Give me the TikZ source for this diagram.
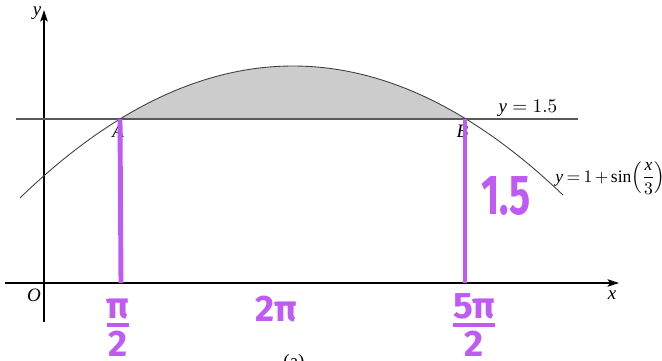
\documentclass[tikz,border=0pt]{standalone}
\usepackage{amsmath}
\usepackage{graphicx}
\usepackage{fontspec}
\setmainfont{Liberation Serif}
\newfontfamily\handfont{Fira Sans}
\usetikzlibrary{positioning, arrows.meta}
\definecolor{pen}{RGB}{191,90,242}

\begin{document}
\begin{tikzpicture}[
    x=0.02cm, y=-0.02cm,
    >={Stealth[length=2.3mm, width=1.5mm, inset=0.5mm]},
    axis/.style={->, line width=0.75pt, black},
    curve/.style={line width=0.5pt, black!75},
    level/.style={line width=0.6pt, black!65},
    region/.style={fill=black!20},
    lbl/.style={inner sep=0pt, font=\fontsize{10.8}{13}\selectfont},
    pt/.style={lbl, font=\fontsize{10.8}{13}\selectfont\itshape},
    ink/.style={line width=2.8pt, pen},
    hand/.style={inner sep=0pt, text=pen,
                 font=\handfont\bfseries\fontsize{#1}{#1}\selectfont},
    hand/.default=21
]
  \useasboundingbox (0,0) rectangle (662,360);

  % Axes
  \coordinate (xstart) at (5,283);
  \coordinate (xend) at (619,283);
  \coordinate (ystart) at (44,322);
  \coordinate (yend) at (44,10);
  \draw[axis] (xstart) -- (xend);
  \draw[axis] (ystart) -- (yend);
  \node[pt] (olbl) at (34,295) {O};
  \node[pt] (ylbl) at (37,13) {y};
  \node[pt] (xlbl) at (612,295) {x};

  % Intersections with y = 1.5
  \coordinate (A) at (120,119);
  \coordinate (B) at (465,119);
  \coordinate (lstart) at (16,119);
  \coordinate (lend) at (578,119);

  % Shaded region, line and curve
  \fill[region] plot[domain=120:465, samples=60] (\x, {66+(0.04207*(\x-293))^2}) -- cycle;
  \draw[level] (lstart) -- (lend);
  \draw[curve] plot[domain=20:563, samples=100, smooth] (\x, {66+(0.04207*(\x-293))^2});

  \node[pt, below=3pt of A, xshift=-1pt] (albl) {A};
  \node[pt, below=3pt of B, xshift=-1.5pt] (blbl) {B};
  \node[lbl, anchor=base] (llbl) at (528,112) {$\textit{y} = 1.5$};
  \node[lbl, anchor=base west, font=\fontsize{10}{12}\selectfont] (clbl) at (555,182)
    {\thickmuskip=3.5mu \medmuskip=2.5mu
     $\displaystyle \textit{y} = 1 + \sin\!\left(\frac{\textit{x}}{3}\right)$};

  % Hand annotations
  \coordinate (Afoot) at (121,283);
  \coordinate (Bfoot) at (465,283);
  \draw[ink] (A) -- (Afoot);
  \draw[ink] (B) -- (Bfoot);
  \node[hand] (half) at (118,328) {$\genfrac{}{}{2.2pt}{1}{\mbox{π}}{\mbox{2}}$};
  \node[hand] (twopi) at (276,309) {2π};
  \node[hand] (fivehalf) at (474,325) {$\genfrac{}{}{2.2pt}{1}{\mbox{5π}}{\mbox{2}}$};
  \node[hand=32] (height) at (506,196) {\scalebox{0.7}[1]{1.5}};

  % Caption, cut by the page edge
  \node[lbl, anchor=base] (cap) at (294,367) {(a)};
\end{tikzpicture}
\end{document}
